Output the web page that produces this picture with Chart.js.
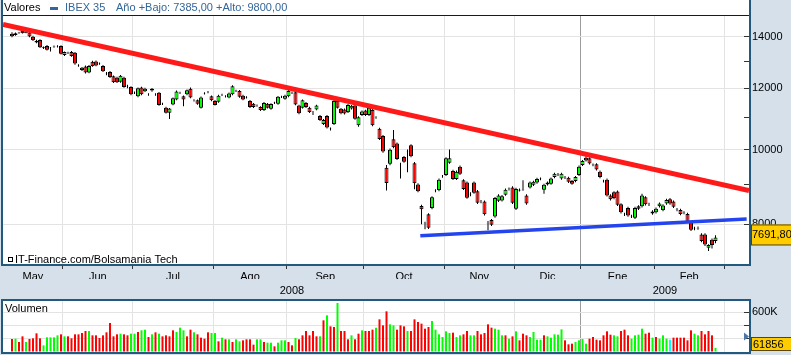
<!DOCTYPE html>
<html><head><meta charset="utf-8">
<script src="https://cdn.jsdelivr.net/npm/chart.js@4.4.1/dist/chart.umd.min.js"></script>
<style>
html,body{margin:0;padding:0;background:#d5e0eb;}
body{width:791px;height:355px;position:relative;overflow:hidden;}
#p{position:absolute;left:0;top:0;}
#v{position:absolute;left:0;top:297px;}
</style></head><body>
<canvas id="p" width="791" height="297"></canvas>
<canvas id="v" width="791" height="58"></canvas>
<script>
// ---------------- DATA ----------------
const seriesName = 'IBEX 35';
const yearLow = 7385.00, yearHigh = 9800.00;
const sourceText = 'IT-Finance.com/Bolsamania Tech';

const monthNames = ['May','Jun','Jul','Ago','Sep','Oct','Nov','Dic','Ene','Feb'];
const monthStartDay = [0,15,35,58,79,101,124,144,163,184,204]; // trading-day index where each month starts (last = March)
const yearNames = ['2008','2009'];
const yearStartDay = [0,163];

const opens = [
14120,14070,14160,14240,14170,14180,14000,13760,13860,13540,
13620,13545,13590,13600,13620,13260,13350,13380,13350,12870,
12680,12810,12580,12990,13000,12920,12830,12550,12600,12440,
12390,12240,12390,12080,12050,11845,11720,12030,11900,11790,
11920,11795,11840,11460,11330,11160,11440,11610,11840,11720,
11790,11990,11580,11580,11330,11820,11870,11720,11560,11530,
11770,11720,11680,11790,11910,11910,11740,11680,11560,11460,
11400,11350,11250,11460,11290,11490,11460,11700,11630,11720,
11840,11860,11400,11330,11490,11330,11180,11270,11050,10790,
11050,10640,10790,11560,11290,11270,11180,11300,11400,10750,
11080,11230,11080,11250,11000,10640,10410,9470,9580,10310,
10180,9340,9780,9940,10130,9600,9010,8450,8020,8240,
8400,8840,8860,9230,9270,9610,9380,9160,9500,9120,
9060,8750,9060,8830,8560,8560,8020,8100,8190,8580,
8590,8740,8890,8930,8380,8850,8880,8720,8930,9000,
9060,9160,8870,9010,9030,9210,9280,9170,9200,9190,
9100,9100,9270,9550,9760,9740,9550,9570,9360,9100,
9140,8720,8800,8820,8490,8240,8400,8190,8160,8440,
8440,8670,8490,8310,8290,8440,8350,8510,8620,8560,
8360,8350,8280,8250,8040,7900,7910,7760,7760,7460,
7640,7610];
const highs = [
14190,14180,14200,14270,14230,14220,14040,13870,13890,13600,
13660,13580,13640,13650,13650,13400,13390,13420,13380,12900,
12790,12850,12870,13030,13040,12960,12870,12600,12640,12470,
12420,12490,12420,12130,12080,11890,12030,12060,12020,11830,
12010,11830,11870,11500,11360,11320,11680,11920,11880,11750,
11960,12030,11620,11610,11710,11860,11910,11750,11590,11770,
11810,11760,11850,12110,11950,11940,11770,11720,11590,11490,
11440,11380,11520,11490,11480,11530,11730,11740,11770,11950,
11880,11890,11430,11610,11520,11360,11220,11430,11080,10950,
11080,10680,11600,11590,11320,11300,11450,11420,11430,11040,
11230,11260,11360,11280,11040,10670,10440,9550,10030,10600,
10210,9610,9810,10000,10160,9630,9040,8480,8060,8270,
8700,8880,9170,9270,9770,10000,9410,9390,9530,9150,
9090,8800,9090,8860,8600,8590,8080,8130,8680,8750,
8730,8900,8930,8960,8920,8900,9120,8750,9090,9110,
9190,9200,9030,9090,9200,9330,9320,9330,9240,9220,
9130,9240,9530,9690,9800,9770,9590,9600,9390,9140,
9170,8750,8830,8850,8520,8280,8430,8230,8430,8470,
8760,8700,8530,8340,8410,8540,8490,8630,8650,8590,
8400,8380,8320,8280,8070,7940,7950,7790,7790,7540,
7670,7740];
const lows = [
13980,14040,14120,14130,14140,13980,13820,13730,13540,13500,
13440,13400,13550,13560,13280,13220,13300,13190,12880,12800,
12640,12540,12550,12800,12820,12880,12600,12480,12380,12190,
12190,12200,12020,12000,11760,11800,11690,11760,11870,11740,
11880,11740,11390,11420,11130,10950,11410,11580,11800,11380,
11760,11650,11540,11430,11300,11780,11830,11550,11400,11500,
11730,11680,11650,11760,11870,11670,11580,11640,11320,11320,
11360,11220,11220,11300,11260,11450,11430,11660,11600,11690,
11800,11410,11110,11300,11320,11150,11080,11240,10890,10760,
10650,10580,10760,11300,11110,11100,11150,11270,10930,10700,
11050,11050,11050,10720,10960,10290,9900,8850,9540,10040,
9690,9170,9610,9340,9770,8880,8800,8000,7880,7890,
8370,8800,8830,9190,9240,9580,9130,9130,9270,8860,
8630,8700,8760,8500,8520,8210,7860,7960,8160,8550,
8560,8710,8850,8500,8350,8820,8840,8480,8900,8970,
9030,9120,8760,8980,9000,9180,9240,9140,9160,9050,
9000,9070,9240,9520,9650,9560,9510,9390,9180,9060,
8690,8590,8620,8450,8260,8200,8180,8150,8130,8350,
8410,8460,8450,8230,8260,8410,8320,8480,8480,8400,
8320,8220,8240,8030,7840,7860,7870,7580,7500,7385,
7440,7560];
const closes = [
14020,14150,14170,14150,14200,14010,13860,13830,13570,13570,
13470,13540,13600,13610,13310,13380,13345,13220,12920,12860,
12760,12580,12830,12830,12850,12910,12630,12540,12410,12220,
12220,12460,12050,12070,11790,11840,12000,11790,11990,11795,
11990,11790,11420,11465,11160,11300,11650,11890,11845,11610,
11930,11680,11585,11460,11680,11825,11875,11580,11420,11740,
11775,11725,11820,12080,11915,11700,11610,11685,11350,11350,
11405,11250,11490,11330,11450,11495,11700,11705,11740,11910,
11845,11440,11140,11580,11350,11180,11185,11400,10920,10920,
10680,10645,11560,11330,11140,11130,11420,11390,10960,11010,
11200,11080,11330,10750,11005,10320,9940,9050,9990,10070,
9720,9345,9640,9945,9800,9040,8830,8370,8025,7920,
8670,8845,9140,9235,9740,9740,9160,9360,9300,8890,
8660,8755,8790,8530,8565,8240,8025,7990,8650,8720,
8700,8870,8895,8530,8890,8870,8885,8510,9060,9080,
9160,9165,9000,9060,9170,9300,9285,9300,9205,9080,
9030,9210,9500,9660,9680,9590,9555,9420,9210,9105,
8720,8620,8650,8480,8290,8245,8210,8195,8400,8380,
8720,8490,8495,8260,8380,8510,8460,8600,8510,8430,
8365,8250,8285,8060,7870,7905,7905,7610,7530,7520,
7520,7691.80];

// volume in thousands of shares
const volumeK = [
195,200,150,235,150,195,205,280,205,100,
220,220,220,250,265,235,235,205,265,265,
285,315,315,250,250,210,250,295,435,235,
265,275,265,250,275,275,300,325,335,225,
265,295,275,235,250,235,325,300,365,325,
235,335,295,265,215,200,295,285,285,160,
215,190,190,150,190,160,175,190,190,110,
190,190,150,140,140,85,140,175,175,150,
100,210,190,250,315,250,315,235,235,475,
550,385,375,735,315,315,190,250,190,275,
325,315,315,335,365,490,400,610,
415,400,335,400,385,315,315,490,450,425,
350,375,465,335,265,225,310,285,290,225,
250,265,315,250,250,315,265,285,415,365,
350,335,250,250,200,235,310,175,275,250,
225,300,185,185,250,235,215,265,260,340,
175,115,125,150,175,195,125,200,225,185,
175,250,310,260,250,235,315,335,250,200,
250,260,350,275,290,215,225,200,250,200,
185,215,215,215,215,175,325,275,250,315,
265,315,250,61.856];
// r = down, g = up, c = unchanged
const volumeDir = (
'rgrrgrrrrg'+'ggggrgrrrr'+'rrgrrrrrrr'+'rgrrggrggr'+'grgrrrrggg'+
'rrgrrrrggr'+'grgrggrrrr'+'ggrggrgggr'+'rgrrrrrrgr'+'grrgrrrgrr'+'grrrgrrr'+
'ggrrrgrrrr'+'rrggggggrg'+'grrggrrrrr'+'gggrgrgrrr'+'ggggrggggg'+
'rrrggggrrr'+'rrrrggrrrg'+'gggrrgrggg'+'crrrrrrggr'+'rrrg').split('');

const trendHigh = [{x:-2.57, y:14518},{x:210.57, y:8849}];
const trendLow  = [{x:116.66, y:7733},{x:209.9, y:8127}];

const priceTicks = [8000,9000,10000,11000,12000,13000,14000];
const priceLabelTicks = [8000,10000,12000,14000];
const volumeTicks = [0,200000,400000,600000];
const volumeLabelTicks = [600000];

// ---------------- SETUP ----------------
const FONT = '"Liberation Sans", Arial, Helvetica, sans-serif';
const FRAME = '#23597f';
const GRID = '#e3e3e3';
const GRID_YEAR = '#9c9c9c';
Chart.defaults.font.family = FONT;
Chart.defaults.font.size = 11;
Chart.defaults.color = '#000';

const N = closes.length;
const dayMin = -2.57, dayMax = 210.57;
const boundaries = monthStartDay.slice(1).map(s => s - 0.5);
const yearBoundary = yearStartDay[1] - 0.5;
const monthCenters = monthNames.map((m,k) => ((k === 0 ? dayMin : monthStartDay[k] - 0.5) + (monthStartDay[k+1] - 0.5)) / 2);
const xTicks = [];
boundaries.forEach(v => xTicks.push({value:v, kind:'b', strong: v === yearBoundary}));
monthCenters.forEach((v,k) => xTicks.push({value:v, kind:'m', text: monthNames[k]}));
xTicks.sort((a,b) => a.value - b.value);
const yearTicks = yearNames.map((y,k) => ({value: ((k === 0 ? dayMin : yearStartDay[k] - 0.5) + (k + 1 < yearStartDay.length ? yearStartDay[k+1] - 0.5 : dayMax)) / 2, text: y}));

const fmtEs = v => v.toFixed(2).replace('.', ',');
const gridColor = c => (c.tick && c.tick.kind === 'b') ? (c.tick.strong ? GRID_YEAR : GRID) : 'rgba(0,0,0,0)';
const tickColor = c => (c.tick && c.tick.kind === 'b') ? '#333' : 'rgba(0,0,0,0)';
const noPad = s => { s.paddingTop = 0; s.paddingBottom = 0; };

const bodies = closes.map((c,i) => ({x:i, y:[opens[i], c]}));
const bodyColors = closes.map((c,i) => c >= opens[i] ? '#00ff00' : '#ff0000');
const wicks = closes.map((c,i) => ({x:i, y:[lows[i], highs[i]]}));

const pricePanel = {
  id:'pricePanel',
  beforeDraw(chart){
    const ctx = chart.ctx;
    ctx.save();
    ctx.fillStyle = '#fff';
    ctx.fillRect(1, 0, 750, chart.chartArea.bottom + 2);
    ctx.restore();
  },
  afterDraw(chart){
    const {ctx, chartArea:a, scales} = chart;
    ctx.save();
    ctx.strokeStyle = '#1a1a1a'; ctx.lineWidth = 1;
    ctx.beginPath(); ctx.moveTo(3, a.top - 0.5); ctx.lineTo(a.right, a.top - 0.5); ctx.stroke();
    ctx.strokeStyle = FRAME; ctx.lineWidth = 2;
    ctx.beginPath();
    ctx.moveTo(2, 0); ctx.lineTo(2, a.bottom + 2);
    ctx.moveTo(a.right + 1, 0); ctx.lineTo(a.right + 1, a.bottom + 2);
    ctx.moveTo(1, a.bottom + 1); ctx.lineTo(a.right + 2, a.bottom + 1);
    ctx.stroke();
    // header
    ctx.font = '11px ' + FONT; ctx.textBaseline = 'middle'; ctx.textAlign = 'left';
    ctx.fillStyle = '#000'; ctx.fillText('Valores', 4, 8);
    ctx.fillStyle = '#336699'; ctx.fillRect(50, 7, 8, 3);
    ctx.fillText(seriesName, 65, 8);
    ctx.fillText('Año +Bajo: ' + fmtEs(yearLow) + ' +Alto: ' + fmtEs(yearHigh), 116, 8);
    // source
    ctx.strokeStyle = '#000'; ctx.lineWidth = 1;
    ctx.strokeRect(8.5, 257.5, 4, 4);
    ctx.fillStyle = '#000'; ctx.fillText(sourceText, 15, 260);
    // last value box
    const yv = scales.y.getPixelForValue(closes[N-1]);
    ctx.fillStyle = '#ffcc00'; ctx.fillRect(751, yv - 13, 40, 21);
    ctx.strokeStyle = '#5a4600'; ctx.strokeRect(751.5, yv - 12.5, 41, 20);
    ctx.fillStyle = '#000'; ctx.fillText(fmtEs(closes[N-1]), 752, yv - 2.5);
    ctx.restore();
  }
};

new Chart(document.getElementById('p'), {
  type:'bar',
  data:{ datasets:[
    {type:'line', label:'tendencia bajista', data: trendHigh, borderColor:'#ff1a1a', borderWidth:5, pointRadius:0, order:-2},
    {type:'line', label:'soporte', data: trendLow, borderColor:'#2444ee', borderWidth:3.5, pointRadius:0, order:-1},
    {type:'bar', label:seriesName, data: bodies, backgroundColor: bodyColors, borderColor:'#000', borderWidth:1, borderSkipped:false, barThickness:4, grouped:false, inflateAmount:0, order:0},
    {type:'bar', label:'rango', data: wicks, backgroundColor:'#000', borderWidth:0, barThickness:1, grouped:false, inflateAmount:0, order:1}
  ]},
  options:{
    responsive:false, animation:false, devicePixelRatio:1, events:[],
    layout:{autoPadding:false, padding:{left:3, top:16, right:0, bottom:0}},
    plugins:{legend:{display:false}, tooltip:{enabled:false}},
    scales:{
      x:{ type:'linear', position:'bottom', min:dayMin, max:dayMax, offset:false, weight:0,
        afterBuildTicks: s => { s.ticks = xTicks.map(t => Object.assign({}, t)); },
        ticks:{ autoSkip:false, maxRotation:0, minRotation:0, padding:2.5, font:{size:11, lineHeight:1}, callback:(v,i,t) => t[i].text || '' },
        grid:{ offset:false, color:gridColor, tickColor:tickColor, tickLength:5, lineWidth:1 },
        border:{display:false},
        afterFit: s => { s.height = 15; s.paddingLeft = 0; s.paddingRight = 0; } },
      xYear:{ type:'linear', position:'bottom', min:dayMin, max:dayMax, offset:false, weight:1,
        afterBuildTicks: s => { s.ticks = yearTicks.map(t => Object.assign({}, t)); },
        ticks:{ autoSkip:false, maxRotation:0, minRotation:0, padding:6.5, font:{size:11, lineHeight:1}, callback:(v,i,t) => t[i].text || '' },
        grid:{display:false, drawTicks:false}, border:{display:false},
        afterFit: s => { s.height = 18; s.paddingLeft = 0; s.paddingRight = 0; } },
      y:{ type:'logarithmic', position:'right', min:7106, max:14892,
        afterBuildTicks: s => { s.ticks = priceTicks.map(v => ({value:v})); },
        ticks:{ autoSkip:false, padding:8, font:{size:11}, callback: v => priceLabelTicks.includes(v) ? String(v) : '' },
        grid:{ color: c => (c.tick && priceLabelTicks.includes(c.tick.value)) ? GRID : 'rgba(0,0,0,0)', tickColor:'#333', tickLength:-5 },
        border:{display:false},
        afterFit: s => { s.width = 42; noPad(s); } }
    }
  },
  plugins:[pricePanel]
});

// ---------------- VOLUME ----------------
const volumes = volumeK.map(k => k * 1000);
const dirColors = {r:'#ff0000', g:'#00ff00', c:'#00ffff'};
const recent = volumes.slice(-20);
const avgRecent = recent.reduce((a,b) => a + b, 0) / recent.length;

const volumePanel = {
  id:'volumePanel',
  beforeDraw(chart){
    const ctx = chart.ctx, a = chart.chartArea;
    ctx.save(); ctx.fillStyle = '#fff'; ctx.fillRect(1, a.top - 2, 750, a.bottom - a.top + 4); ctx.restore();
  },
  afterDraw(chart){
    const {ctx, chartArea:a, scales} = chart;
    ctx.save();
    ctx.strokeStyle = FRAME; ctx.lineWidth = 2;
    ctx.beginPath();
    ctx.moveTo(2, a.top - 2); ctx.lineTo(2, a.bottom + 2);
    ctx.moveTo(a.right + 1, a.top - 2); ctx.lineTo(a.right + 1, a.bottom + 2);
    ctx.moveTo(1, a.top - 1); ctx.lineTo(a.right + 2, a.top - 1);
    ctx.moveTo(1, a.bottom + 1); ctx.lineTo(a.right + 2, a.bottom + 1);
    ctx.stroke();
    ctx.font = '11px ' + FONT; ctx.textBaseline = 'middle'; ctx.textAlign = 'left';
    ctx.fillStyle = '#000'; ctx.fillText('Volumen', 5, a.top + 8);
    // average marker
    const ya = scales.y.getPixelForValue(avgRecent);
    ctx.fillStyle = '#4a78a8';
    ctx.beginPath(); ctx.moveTo(a.right - 5, ya - 4); ctx.lineTo(a.right, ya); ctx.lineTo(a.right - 5, ya + 4); ctx.closePath(); ctx.fill();
    // last volume box
    const last = volumes[volumes.length - 1];
    const yl = scales.y.getPixelForValue(last);
    const top = Math.min(yl - 7, a.bottom - 15);
    ctx.fillStyle = '#ffcc00'; ctx.fillRect(751, top, 40, 14);
    ctx.strokeStyle = '#5a4600'; ctx.lineWidth = 1; ctx.strokeRect(751.5, top + 0.5, 41, 13);
    ctx.fillStyle = '#000'; ctx.fillText(String(Math.round(last)), 753, top + 7.5);
    ctx.restore();
  }
};

new Chart(document.getElementById('v'), {
  type:'bar',
  data:{ datasets:[{ label:'Volumen', data: volumes.map((v,i) => ({x:i, y:v})), backgroundColor: volumeDir.map(d => dirColors[d]), borderWidth:0, barThickness:2, grouped:false, inflateAmount:0 }]},
  options:{
    responsive:false, animation:false, devicePixelRatio:1, events:[],
    layout:{autoPadding:false, padding:{left:3, top:4, right:0, bottom:3}},
    plugins:{legend:{display:false}, tooltip:{enabled:false}},
    scales:{
      x:{ type:'linear', min:dayMin, max:dayMax, offset:false,
        afterBuildTicks: s => { s.ticks = xTicks.filter(t => t.kind === 'b').map(t => Object.assign({}, t)); },
        ticks:{display:false},
        grid:{ offset:false, color:gridColor, drawTicks:false },
        border:{display:false},
        afterFit: s => { s.height = 0; s.paddingLeft = 0; s.paddingRight = 0; } },
      y:{ position:'right', min:0, max:765000,
        afterBuildTicks: s => { s.ticks = volumeTicks.map(v => ({value:v})); },
        ticks:{ autoSkip:false, padding:8, font:{size:11}, callback: v => volumeLabelTicks.includes(v) ? (v/1000) + 'K' : '' },
        grid:{ color: c => (c.tick && c.tick.value > 0) ? GRID : 'rgba(0,0,0,0)', tickColor:'#333', tickLength:-5 },
        border:{display:false},
        afterFit: s => { s.width = 42; noPad(s); } }
    }
  },
  plugins:[volumePanel]
});
</script>
</body></html>
